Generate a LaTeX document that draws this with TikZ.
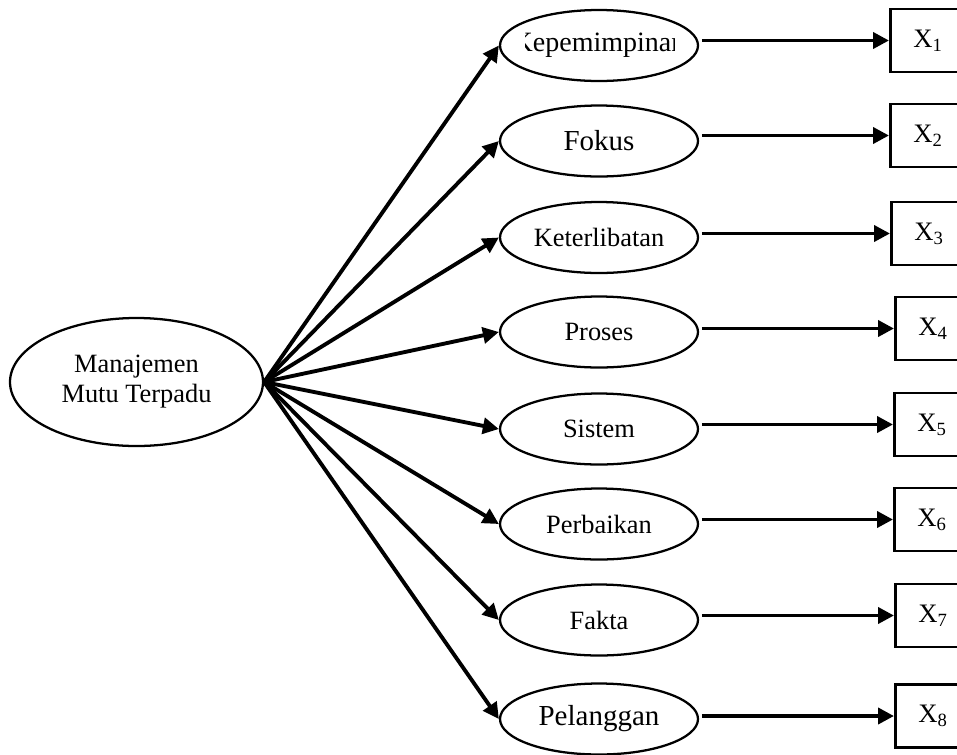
\documentclass[tikz,border=0pt]{standalone}
\usepackage{fontspec}
\setmainfont{Liberation Serif}
\usetikzlibrary{shapes.geometric,arrows.meta}
\begin{document}
\begin{tikzpicture}[x=0.75pt,y=-0.75pt,
  oval/.style={draw,ellipse,line width=1.7pt,inner sep=0pt,minimum width=148.5pt,minimum height=53.25pt,font=\fontsize{19.8pt}{22pt}\selectfont},
  bigoval/.style={draw,ellipse,line width=1.7pt,inner sep=0pt,minimum width=189.75pt,minimum height=96pt,align=center,font=\fontsize{19.8pt}{22.5pt}\selectfont},
  xbox/.style={draw,rectangle,line width=2pt,anchor=west,minimum height=47.25pt,inner xsep=17.25pt,text width=25.5pt,align=left,font=\fontsize{20pt}{22pt}\selectfont},
  arr/.style={line width=2.9pt,-{Triangle[length=12pt,width=12pt]}},
  bigfont/.style={font=\fontsize{21.75pt}{24pt}\selectfont}
]
\useasboundingbox (0,0) rectangle (957,754);
\clip (0,0) rectangle (957,754);

\node[bigoval] (m) at (136.5,382) {Manajemen\\Mutu Terpadu};

\node[oval] (e1) at (599,45.5) {};
\begin{scope}
  \clip (525,0) rectangle (674,90);
  \node[font=\fontsize{21pt}{23pt}\selectfont] (t1) at (e1) {Kepemimpinan};
\end{scope}
\node[oval,bigfont] (e2) at (599,141) {Fokus};
\node[oval] (e3) at (599,237.5) {Keterlibatan};
\node[oval] (e4) at (599,332) {Proses};
\node[oval] (e5) at (599,429) {Sistem};
\node[oval] (e6) at (599,524) {Perbaikan};
\node[oval] (e7) at (599,620) {Fakta};
\node[oval,bigfont] (e8) at (599,719) {Pelanggan};

\node[xbox] (b1) at (889,40.5) {X\textsubscript{1}};
\node[xbox] (b2) at (889,135.5) {X\textsubscript{2}};
\node[xbox] (b3) at (890,233.5) {X\textsubscript{3}};
\node[xbox] (b4) at (894,328.5) {X\textsubscript{4}};
\node[xbox] (b5) at (893,424.5) {X\textsubscript{5}};
\node[xbox] (b6) at (893,519.5) {X\textsubscript{6}};
\node[xbox] (b7) at (894,615.5) {X\textsubscript{7}};
\node[xbox] (b8) at (894,716) {X\textsubscript{8}};

\foreach \i in {1,...,8}{
  \draw[arr] (m.east) -- (e\i.west);
  \draw[arr,shorten <=2pt] (e\i.east |- b\i.west) -- (b\i.west);
}
\end{tikzpicture}
\end{document}
